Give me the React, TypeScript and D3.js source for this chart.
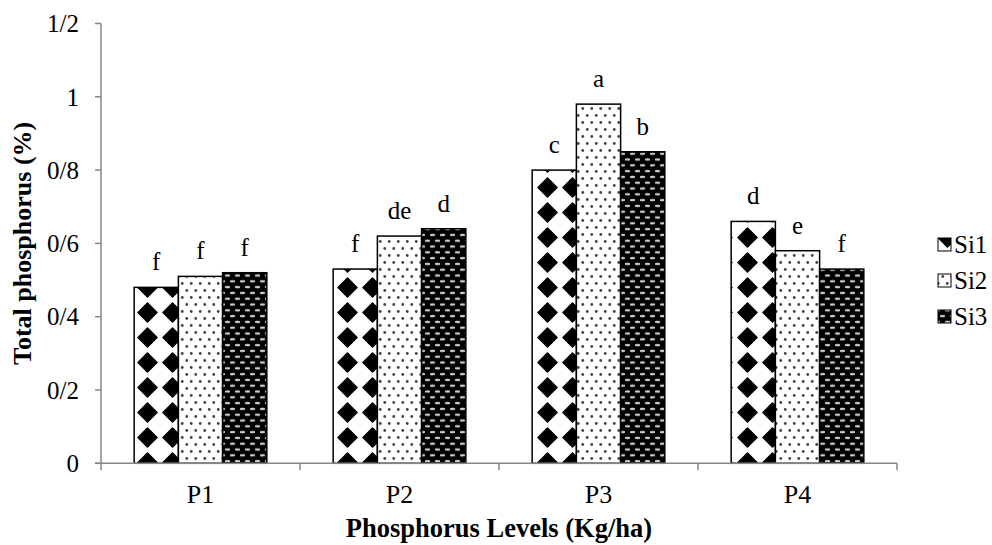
import { useEffect, useRef } from 'react';
import * as d3 from 'd3';

const categories = ['P1', 'P2', 'P3', 'P4'];
const series = ['Si1', 'Si2', 'Si3'];
const si1 = [0.48, 0.53, 0.8, 0.66];
const si2 = [0.51, 0.62, 0.98, 0.58];
const si3 = [0.52, 0.64, 0.85, 0.53];
const letters1 = ['f', 'f', 'c', 'd'];
const letters2 = ['f', 'de', 'a', 'e'];
const letters3 = ['f', 'd', 'b', 'f'];
const yTicks = [0, 0.2, 0.4, 0.6, 0.8, 1, 1.2];

const FONT = '"Liberation Serif", "Times New Roman", serif';
const AXIS = '#868686';

const App = () => {
    const chartRef = useRef<HTMLDivElement>(null);

    useEffect(() => {
        const W = 992, H = 545;
        const left = 101, right = 897, top = 23.5, bottom = 463.3;

        const svg = d3.select(chartRef.current)
            .append('svg')
            .attr('width', W)
            .attr('height', H)
            .style('position', 'absolute')
            .style('left', 0)
            .style('top', 0)
            .style('font-family', FONT);

        const defs = svg.append('defs');

        // Si1: black diamonds on white
        const p1 = defs.append('pattern').attr('id', 'pat-si1')
            .attr('patternUnits', 'userSpaceOnUse').attr('width', 25).attr('height', 25)
            .attr('x', 10);
        p1.append('rect').attr('width', 25).attr('height', 25).attr('fill', '#fff');
        p1.append('path').attr('d', 'M12.5,3 L22,12.5 L12.5,22 L3,12.5 Z')
            .attr('fill', '#000').attr('stroke', '#000').attr('stroke-width', 1.5).attr('stroke-linejoin', 'round');

        // Si2: small dots on white
        const p2 = defs.append('pattern').attr('id', 'pat-si2')
            .attr('patternUnits', 'userSpaceOnUse').attr('width', 9).attr('height', 14);
        p2.append('rect').attr('width', 9).attr('height', 14).attr('fill', '#fff');
        [[2.25, 3.5], [6.75, 10.5]].forEach(([cx, cy]) => {
            p2.append('circle').attr('cx', cx).attr('cy', cy).attr('r', 1.4).attr('fill', '#444');
        });

        // Si3: light dashes on black
        const p3 = defs.append('pattern').attr('id', 'pat-si3')
            .attr('patternUnits', 'userSpaceOnUse').attr('width', 10).attr('height', 11.6);
        p3.append('rect').attr('width', 10).attr('height', 11.6).attr('fill', '#000');
        [[2.5, 2.9], [7.5, 8.7]].forEach(([cx, cy]) => {
            p3.append('ellipse').attr('cx', cx).attr('cy', cy).attr('rx', 2.8).attr('ry', 1.2).attr('fill', '#ccc');
        });

        const fills = ['url(#pat-si1)', 'url(#pat-si2)', 'url(#pat-si3)'];
        const values = [si1, si2, si3];
        const letters = [letters1, letters2, letters3];

        const x = d3.scaleBand().domain(categories).range([left, right]).padding(0);
        const xs = d3.scaleBand().domain(series).range([0, x.bandwidth()])
            .paddingInner(0).paddingOuter(0.75);
        const y = d3.scaleLinear().domain([0, 1.2]).range([bottom, top]);

        // bars
        series.forEach((s, si) => {
            const g = svg.append('g');
            g.selectAll('rect')
                .data(categories)
                .enter()
                .append('rect')
                .attr('x', (c) => (x(c) as number) + (xs(s) as number))
                .attr('y', (c, i) => y(values[si][i]))
                .attr('width', xs.bandwidth())
                .attr('height', (c, i) => bottom - y(values[si][i]))
                .attr('fill', fills[si])
                .attr('stroke', '#000')
                .attr('stroke-width', 1.5);

            g.selectAll('text')
                .data(categories)
                .enter()
                .append('text')
                .attr('x', (c) => (x(c) as number) + (xs(s) as number) + xs.bandwidth() / 2)
                .attr('y', (c, i) => y(values[si][i]) - 17)
                .attr('text-anchor', 'middle')
                .attr('font-size', 25)
                .attr('fill', '#000')
                .text((c, i) => letters[si][i]);
        });

        // y axis
        const yAxis = svg.append('g');
        yAxis.append('line')
            .attr('x1', left).attr('x2', left).attr('y1', top).attr('y2', bottom)
            .attr('stroke', AXIS).attr('stroke-width', 1.5);
        yAxis.selectAll('line.tick')
            .data(yTicks)
            .enter()
            .append('line')
            .attr('class', 'tick')
            .attr('x1', left - 6).attr('x2', left)
            .attr('y1', (d) => y(d)).attr('y2', (d) => y(d))
            .attr('stroke', AXIS).attr('stroke-width', 1.5);
        yAxis.selectAll('text')
            .data(yTicks)
            .enter()
            .append('text')
            .attr('x', 79)
            .attr('y', (d) => y(d))
            .attr('dy', '0.35em')
            .attr('text-anchor', 'end')
            .attr('font-size', 25)
            .text((d) => d3.format('~g')(d).replace('.', '/'));

        // x axis
        const xAxis = svg.append('g');
        xAxis.append('line')
            .attr('x1', left - 6).attr('x2', right).attr('y1', bottom).attr('y2', bottom)
            .attr('stroke', AXIS).attr('stroke-width', 1.5);
        const bounds = categories.map((c) => x(c) as number).concat([right]);
        xAxis.selectAll('line.tick')
            .data(bounds)
            .enter()
            .append('line')
            .attr('class', 'tick')
            .attr('x1', (d) => d).attr('x2', (d) => d)
            .attr('y1', bottom).attr('y2', bottom + 7)
            .attr('stroke', AXIS).attr('stroke-width', 1.5);
        xAxis.selectAll('text')
            .data(categories)
            .enter()
            .append('text')
            .attr('x', (c) => (x(c) as number) + x.bandwidth() / 2)
            .attr('y', 503)
            .attr('text-anchor', 'middle')
            .attr('font-size', 26)
            .text((c) => c);

        // axis titles
        svg.append('text')
            .attr('x', (left + right) / 2)
            .attr('y', 537)
            .attr('text-anchor', 'middle')
            .attr('font-size', 26.5)
            .attr('font-weight', 'bold')
            .text('Phosphorus Levels (Kg/ha)');
        svg.append('text')
            .attr('transform', `translate(31,${(top + bottom) / 2}) rotate(-90)`)
            .attr('text-anchor', 'middle')
            .attr('font-size', 26)
            .attr('font-weight', 'bold')
            .text('Total phosphorus (%)');

        // legend
        const legend = svg.append('g');
        series.forEach((s, i) => {
            const ly = 244 + i * 36;
            legend.append('rect')
                .attr('x', 938).attr('y', ly - 6)
                .attr('width', 13).attr('height', 13)
                .attr('fill', fills[i])
                .attr('stroke', '#000').attr('stroke-width', 1);
            legend.append('text')
                .attr('x', 954).attr('y', ly)
                .attr('dy', '0.35em')
                .attr('font-size', 25)
                .text(s);
        });

        return () => {
            d3.select(chartRef.current).select('svg').remove();
        };
    }, []);

    return <div ref={chartRef}></div>;
};

export default App;
